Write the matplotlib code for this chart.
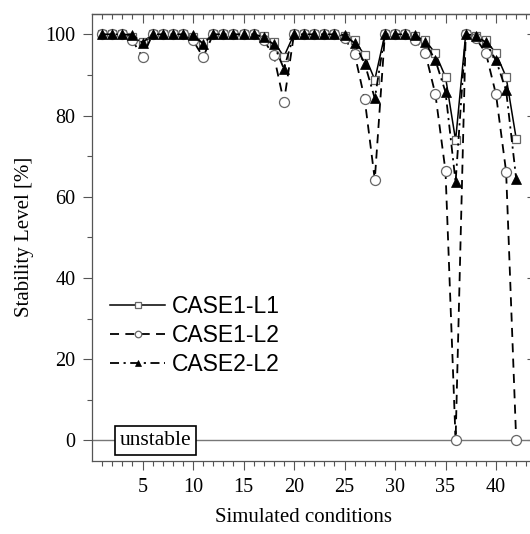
import matplotlib
matplotlib.use("Agg")
import matplotlib.pyplot as plt
import numpy as np

conditions = list(range(1, 43))
case1_l1 = [100, 100, 100, 99.3, 98.0, 100, 100, 100, 100, 99.3, 98.0, 100, 100, 100, 100, 100,
            99.5, 98.2, 94.5, 100, 100, 100, 100, 100, 99.5, 98.5, 94.8, 88.8, 100, 100, 100,
            99.5, 98.5, 95.3, 89.5, 73.9, 100, 99.5, 98.5, 95.3, 89.5, 74.3]
case1_l2 = [100, 100, 100, 98.5, 94.4, 100, 100, 100, 100, 98.5, 94.4, 100, 100, 100, 100, 100,
            98.5, 94.8, 83.3, 100, 100, 100, 100, 100, 99.0, 95.2, 84.0, 64.2, 100, 100, 100,
            98.5, 95.4, 85.2, 66.3, 0, 100, 99.0, 95.4, 85.2, 66.2, 0]
case2_l2 = [100, 100, 100, 99.8, 97.9, 100, 100, 100, 100, 99.8, 97.7, 100, 100, 100, 100, 100,
            99.3, 97.5, 91.5, 100, 100, 100, 100, 100, 99.8, 97.8, 92.8, 84.2, 100, 100, 100,
            99.8, 98.0, 93.6, 85.8, 63.6, 100, 99.7, 98.0, 93.6, 86.2, 64.4]
xticks = [5, 10, 15, 20, 25, 30, 35, 40]
yticks = [0, 20, 40, 60, 80, 100]

serif = ["Liberation Serif", "DejaVu Serif"]
sans = ["Liberation Sans", "DejaVu Sans"]

fig = plt.figure(figsize=(5.30, 5.34), dpi=100)
ax = fig.add_axes([92 / 530, (534 - 460.6) / 534, 444.4 / 530, 446.6 / 534])

ax.axhline(0, color="#777777", lw=1.0, zorder=1)

ax.plot(conditions, case1_l1, color="black", lw=1.1, ls="-", marker="s", ms=6.3,
        mfc="white", mec="#666666", mew=0.9, label="CASE1-L1", zorder=3)
ax.plot(conditions, case1_l2, color="black", lw=1.3, ls=(0, (5, 3.5)), marker="o", ms=7.2,
        mfc="white", mec="#666666", mew=0.9, label="CASE1-L2", zorder=4)
ax.plot(conditions, case2_l2, color="black", lw=1.3, ls=(0, (5, 2.5, 1.2, 2.5)), marker="^", ms=7.5,
        mfc="black", mec="black", mew=0.5, label="CASE2-L2", zorder=5)

ax.set_xlim(0, 44)
ax.set_ylim(-5, 105)
ax.set_xticks(xticks)
ax.set_xticks(range(1, 44), minor=True)
ax.set_yticks(yticks)
ax.set_yticks([10, 30, 50, 70, 90], minor=True)
ax.tick_params(which="major", direction="out", length=6.5, width=0.8, color="#555555",
               labelsize=14.5, top=False, right=False)
ax.tick_params(axis="x", which="major", pad=6)
ax.tick_params(axis="y", which="major", pad=5.5)
ax.tick_params(which="minor", direction="out", length=3.3, width=0.8, color="#555555",
               top=False, right=False)
for lab in ax.get_xticklabels() + ax.get_yticklabels():
    lab.set_family(serif)

top = ax.secondary_xaxis("top")
top.set_xticks(xticks)
top.set_xticks(range(1, 44), minor=True)
top.tick_params(which="major", direction="in", length=6.5, width=0.8, color="#555555", labeltop=False)
top.tick_params(which="minor", direction="in", length=3.3, width=0.8, color="#555555")
top.set_xticklabels([])
right = ax.secondary_yaxis("right")
right.set_yticks(yticks)
right.set_yticks([10, 30, 50, 70, 90], minor=True)
right.tick_params(which="major", direction="in", length=6.5, width=0.8, color="#555555", labelright=False)
right.tick_params(which="minor", direction="in", length=3.3, width=0.8, color="#555555")
right.set_yticklabels([])
for sp in list(ax.spines.values()) + [top.spines["top"], right.spines["right"]]:
    sp.set_color("#555555")
    sp.set_linewidth(0.9)

ax.set_xlabel("Simulated conditions", family=serif, fontsize=15)
ax.xaxis.set_label_coords(0.477, -0.107)
ax.set_ylabel("Stability Level [%]", family=serif, fontsize=15, labelpad=8)

ax.text(6.3, 0, "unstable", family=serif, fontsize=15.5, ha="center", va="center", zorder=6,
        bbox=dict(boxstyle="square,pad=0.22", fc="white", ec="black", lw=1.2))

leg = ax.legend(loc="upper left", bbox_to_anchor=(0.02, 0.392), frameon=False,
                prop={"family": sans, "size": 16.5}, handlelength=2.4, handletextpad=0.3,
                labelspacing=0.27, markerscale=0.65, borderaxespad=0)

fig.savefig("out.png", dpi=100)
